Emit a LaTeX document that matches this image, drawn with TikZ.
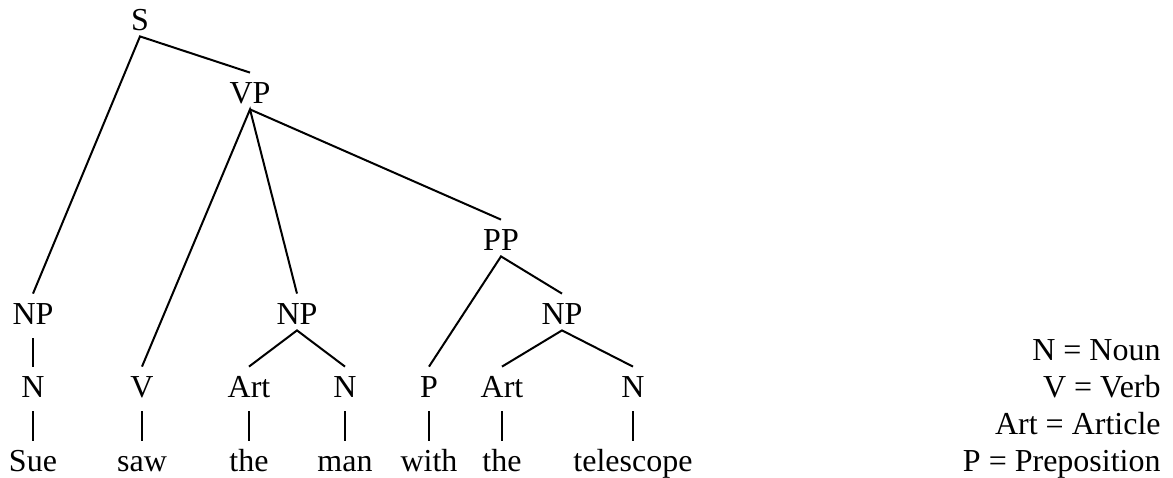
\documentclass[tikz,border=0pt]{standalone}
\usepackage{fontspec}
\setmainfont{Liberation Serif}
\tikzset{
  cat/.style={anchor=base, inner xsep=0pt, inner ysep=3pt, text height=12pt, text depth=0pt},
  branch/.style={line width=1pt},
  bar/.style={line width=0.7pt, shorten <=4pt}
}

\begin{document}
\begin{tikzpicture}[x=0.5pt, y=-0.5pt, font=\fontsize{16}{18.5}\selectfont]
\useasboundingbox (0,0) rectangle (1173,477);
% phrases
\node[cat] (s) at (140,30) {S};
\node[cat] (vp) at (250,103) {VP};
\node[cat] (pp) at (501,250) {PP};
\node[cat] (np1) at (33,324) {NP};
\node[cat] (np2) at (297,324) {NP};
\node[cat] (np3) at (562,324) {NP};
% word classes
\node[cat] (n1) at (33,397) {N};
\node[cat] (v) at (142,397) {V};
\node[cat] (art1) at (249,397) {Art};
\node[cat] (n2) at (345,397) {N};
\node[cat] (p) at (429,397) {P};
\node[cat] (art2) at (502,397) {Art};
\node[cat] (n3) at (633,397) {N};
% words
\node[cat] (sue) at (33,471) {Sue};
\node[cat] (saw) at (142,471) {saw};
\node[cat] (the1) at (249,471) {the};
\node[cat] (man) at (345,471) {man};
\node[cat] (with) at (429,471) {with};
\node[cat] (the2) at (502,471) {the};
\node[cat] (tele) at (633,471) {telescope};

\draw[branch] (np1.north) -- (s.south) -- (vp.north);
\draw[branch] (v.north) -- (vp.south) -- (np2.north);
\draw[branch] (vp.south) -- (pp.north);
\draw[branch] (p.north) -- (pp.south) -- (np3.north);
\draw[branch] (art1.north) -- (np2.south) -- (n2.north);
\draw[branch] (art2.north) -- (np3.south) -- (n3.north);

\draw[bar] (np1.south) -- (n1.north);
\foreach \a/\b in {n1/sue, v/saw, art1/the1, n2/man, p/with, art2/the2, n3/tele}
  \draw[bar] (\a.south) -- (\b.north);

% key
\foreach \txt/\yy [count=\i] in {N = Noun/360, V = Verb/397, Art = Article/434, P = Preposition/471}
  \node[anchor=base east, inner sep=0pt] (key\i) at (1161,\yy) {\txt};
\end{tikzpicture}
\end{document}
